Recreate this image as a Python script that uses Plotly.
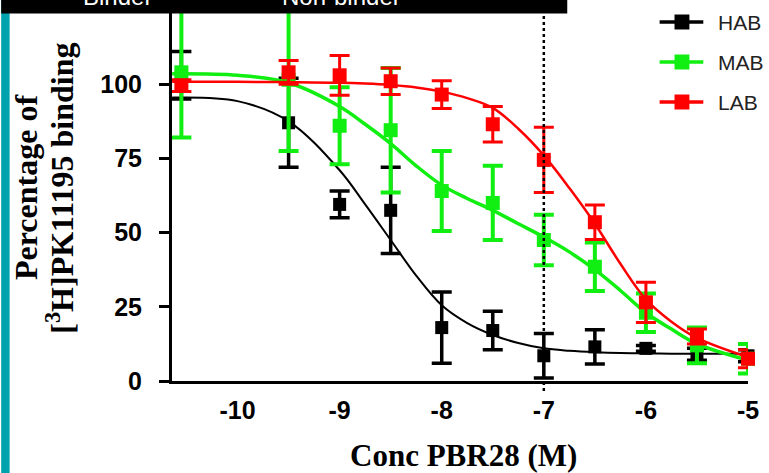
import plotly.graph_objects as go

# ---------------- data ----------------
conc_log = [-10.55, -9.5, -9.0, -8.5, -8.0, -7.5, -7.0, -6.5, -6.0, -5.5, -5.0]

hab_mean = [103, 87, 59.5, 57.5, 18, 17, 8.5, 11.5, 11, 9, 8.5]
hab_err = [8, 15, 4.5, 14.5, 12, 6.5, 7.5, 5.8, 1.0, 2, 2]

mab_mean = [104, 101.5, 86, 84.5, 64, 60, 47.5, 38.5, 23, 12, 7.5]
mab_err = [22, 24, 13, 21, 13.5, 12.5, 8.5, 8.2, 6.5, 6, 5]

lab_mean = [99.5, 104, 103, 101, 96.5, 86.5, 74.5, 53.5, 26.5, 15, 7.5]
lab_err = [2, 4, 6.7, 4.5, 4.7, 6, 11, 5.8, 6.8, 2.5, 3]

# fitted curves
curve_x = [-10.64, -10.0, -9.5, -9.0, -8.75, -8.5, -8.25, -8.0, -7.75, -7.5,
           -7.25, -7.0, -6.75, -6.5, -6.25, -6.0, -5.75, -5.5, -5.0]
hab_curve = [95.5, 94.3, 87.5, 71, 59.5, 47.5, 35.5, 25.5, 19.5, 15.5,
             12.8, 11, 10.2, 9.7, 9.4, 9.3, 9.2, 9.2, 9.2]
mab_curve = [103.5, 103, 100.5, 92.5, 86.5, 80, 72.5, 66, 61.5, 57.5,
             53, 48.5, 43.5, 37.5, 30.5, 23, 17.5, 12.5, 7]
lab_curve = [100.8, 100.8, 100.7, 100.5, 100.2, 99.7, 98.9, 97.5, 95.3, 92,
             85, 76, 65, 53, 39.5, 27.5, 20, 14.5, 8]

series_names = ["HAB", "MAB", "LAB"]
x_ticks = [-10, -9, -8, -7, -6, -5]
y_ticks = [0, 25, 50, 75, 100, 125]
ref_line_x = -7
top_labels = ["Binder", "Non-binder"]

# ---------------- figure ----------------
W, H = 769, 473
L, R, T, B = 172, 17, 10, 92
PW, PH = W - L - R, H - T - B


def px(xp):
    return (xp - L) / PW


def py(yp):
    return (H - B - yp) / PH


colors = {"HAB": "#000000", "MAB": "#11EE11", "LAB": "#FF0000"}
curve_w = {"HAB": 2, "MAB": 3.5, "LAB": 2.5}
err_th = {"HAB": 3.5, "MAB": 4, "LAB": 3}
msize = {"HAB": 13, "MAB": 14, "LAB": 14}

means = {"HAB": hab_mean, "MAB": mab_mean, "LAB": lab_mean}
errs = {"HAB": hab_err, "MAB": mab_err, "LAB": lab_err}
curves = {"HAB": hab_curve, "MAB": mab_curve, "LAB": lab_curve}

fig = go.Figure()
for name in series_names:
    c = colors[name]
    fig.add_trace(go.Scatter(
        x=curve_x, y=curves[name], mode="lines",
        line=dict(color=c, width=curve_w[name], shape="spline", smoothing=1.0),
        showlegend=False, hoverinfo="skip", cliponaxis=False))
    fig.add_trace(go.Scatter(
        x=conc_log, y=means[name], mode="markers", name=name,
        marker=dict(symbol="square", size=msize[name], color=c, line=dict(width=0)),
        error_y=dict(type="data", array=errs[name], visible=True,
                     color=c, thickness=err_th[name], width=10),
        showlegend=False, cliponaxis=False))

shapes = []
# dotted reference line
shapes.append(dict(type="line", xref="x", yref="paper", x0=ref_line_x, x1=ref_line_x,
                   y0=py(391), y1=py(0), layer="above",
                   line=dict(color="black", width=2.5, dash="3px,3px")))
# teal strip on the left
shapes.append(dict(type="rect", xref="paper", yref="paper", x0=px(0), x1=px(8.5),
                   y0=py(H), y1=py(0), fillcolor="#00A3AD", line=dict(width=0), layer="above"))
# black bar on top
shapes.append(dict(type="rect", xref="paper", yref="paper", x0=px(0), x1=px(570),
                   y0=py(13.5), y1=py(-2), fillcolor="black", line=dict(width=0), layer="above"))

annotations = []
# legend (manual)
leg_y = [22, 62, 102]
for name, yy in zip(series_names, leg_y):
    c = colors[name]
    shapes.append(dict(type="line", xref="paper", yref="paper", x0=px(663), x1=px(707),
                       y0=py(yy), y1=py(yy), line=dict(color=c, width=3.5)))
    shapes.append(dict(type="rect", xref="paper", yref="paper", x0=px(678), x1=px(693),
                       y0=py(yy + 7.5), y1=py(yy - 7.5), fillcolor=c, line=dict(width=0)))
    annotations.append(dict(text=name, xref="paper", yref="paper", x=px(720), y=py(yy),
                            xanchor="left", yanchor="middle", showarrow=False,
                            font=dict(family="Liberation Sans, Arial", size=21, color="#222222")))

# partially hidden white labels in the black bar
for txt, cx in zip(top_labels, [117, 343]):
    annotations.append(dict(text=txt, xref="paper", yref="paper", x=px(cx), y=py(12),
                            xanchor="center", yanchor="bottom", showarrow=False,
                            font=dict(family="Liberation Sans, Arial", size=24, color="white")))

serif = "Liberation Serif, Times New Roman, serif"
annotations.append(dict(text="<b>Percentage of</b>", xref="paper", yref="paper",
                        x=px(25), y=py(188), textangle=-90, showarrow=False,
                        xanchor="center", yanchor="middle",
                        font=dict(family=serif, size=32, color="black")))
annotations.append(dict(text="<b>[<sup>3</sup>H]PK11195 binding</b>", xref="paper", yref="paper",
                        x=px(59), y=py(188), textangle=-90, showarrow=False,
                        xanchor="center", yanchor="middle",
                        font=dict(family=serif, size=32, color="black")))
annotations.append(dict(text="<b>Conc PBR28 (M)</b>", xref="paper", yref="paper",
                        x=px(466), y=py(455), showarrow=False,
                        xanchor="center", yanchor="middle",
                        font=dict(family=serif, size=31, color="black")))

tickfont = dict(family="Liberation Sans, Arial", size=25, color="black", weight="bold")

fig.update_layout(
    width=W, height=H, autosize=False,
    margin=dict(l=L, r=R, t=T, b=B, pad=0),
    paper_bgcolor="white", plot_bgcolor="white",
    shapes=shapes, annotations=annotations,
    xaxis=dict(range=[-10.642, -5.0], tickvals=x_ticks, ticktext=[str(v) for v in x_ticks],
               showline=True, linecolor="black", linewidth=3, ticks="",
               showgrid=False, zeroline=False, tickfont=tickfont, ticklabelstandoff=5),
    yaxis=dict(range=[0, 125], tickvals=y_ticks, ticktext=[str(v) for v in y_ticks],
               showline=True, linecolor="black", linewidth=3, ticks="outside",
               ticklen=10, tickwidth=3, tickcolor="black",
               showgrid=False, zeroline=False, tickfont=tickfont, ticklabelstandoff=12),
)

fig.write_html("out.html")
